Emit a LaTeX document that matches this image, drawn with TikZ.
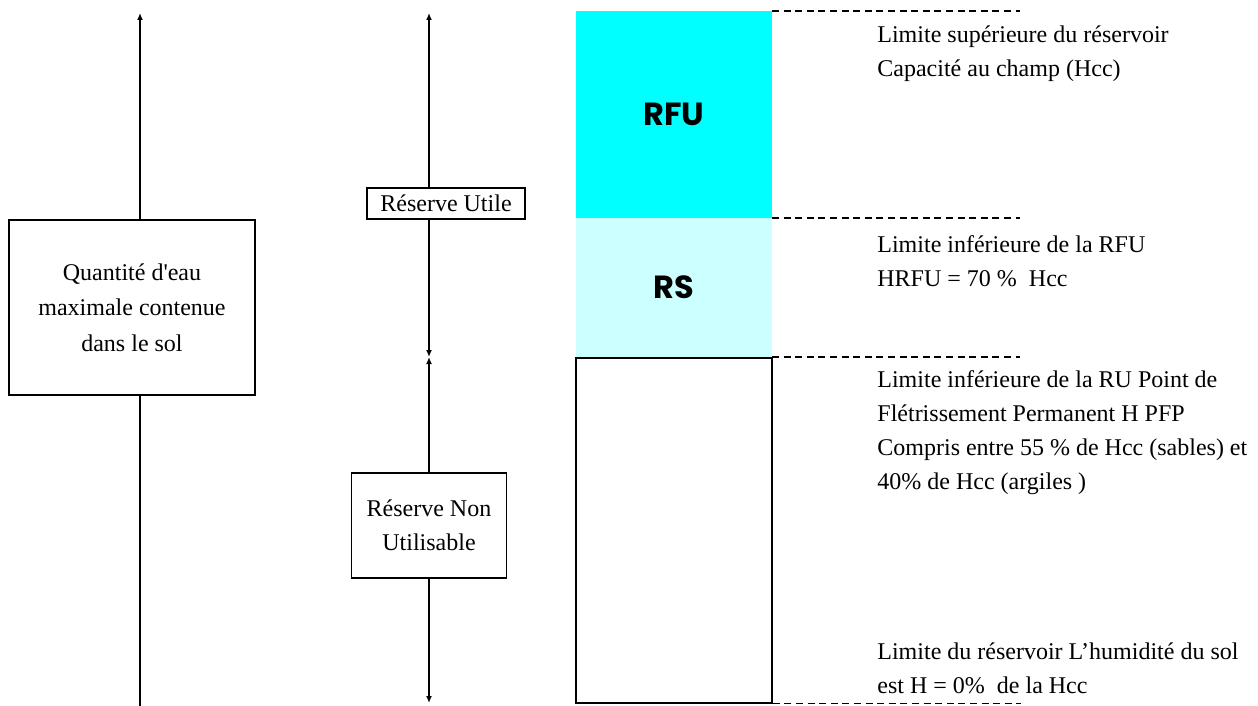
\documentclass[tikz,border=0pt]{standalone}
\usepackage{fontspec}
\setmainfont{Liberation Serif}
\newfontfamily\zonefont{Poppins}
\usepackage{tikz}
\usetikzlibrary{arrows.meta, positioning}
\definecolor{rfucol}{RGB}{0,255,255}
\definecolor{rscol}{RGB}{204,255,255}

\begin{document}
\begin{tikzpicture}[
    x=0.5pt, y=-0.5pt,
    >={Latex[length=3.5pt,width=3pt]},
    every node/.style={font=\fontsize{12}{17}\selectfont},
    axe/.style={line width=0.7pt},
    boite/.style={draw, line width=0.85pt, align=center, inner sep=0pt},
    zone/.style={minimum width=98pt, inner sep=0pt, outer sep=0pt,
        font=\zonefont\bfseries\fontsize{16}{18}\selectfont},
    limite/.style={line width=0.65pt, dash pattern=on 3.5pt off 2.3pt},
    legende/.style={anchor=north west, align=left, inner sep=0pt}
]
    \useasboundingbox (0,0) rectangle (1258,706);

    % Quantite d'eau totale
    \node[boite, minimum width=123pt, minimum height=87.5pt,
        font=\fontsize{12}{17.8}\selectfont] (qmax) at (132,307.5)
        {Quantité d\textquotesingle eau\\maximale contenue\\dans le sol};
    \coordinate (qtop) at (140,13);
    \coordinate (qbot) at (140,706);
    \draw[axe, ->] (qmax.north -| qtop) -- (qtop);
    \draw[axe] (qmax.south -| qtop) -- (qbot);

    % Reserve utile / non utilisable
    \node[boite, minimum width=79pt, minimum height=15.5pt] (ru) at (446,203.5) {Réserve Utile};
    \node[boite, minimum width=77.5pt, minimum height=52.5pt] (rnu) at (429,525.5) {Réserve Non\\Utilisable};
    \coordinate (mtop) at (429,13);
    \coordinate (mmid) at (429,357);
    \coordinate (mbot) at (429,703);
    \draw[axe, ->] (ru.north -| mtop) -- (mtop);
    \draw[axe, ->] (ru.south -| mtop) -- (mmid);
    \draw[axe, ->] (rnu.north) -- (mmid);
    \draw[axe, ->] (rnu.south) -- (mbot);

    % Reservoir
    \node[zone, fill=rfucol, minimum height=103.5pt] (rfu) at (674,114.5) {RFU};
    \node[zone, fill=rscol, minimum height=69.5pt, below=0pt of rfu] (rs) {RS};
    \node[boite, minimum width=98pt, minimum height=172.5pt, below=0pt of rs] (res) {};

    \draw[limite] (rfu.north east) -- ++(248,0);
    \draw[limite] (rfu.south east) -- ++(248,0);
    \draw[limite] (rs.south east) -- ++(248,0);
    \draw[limite] (res.south east) -- ++(248,0);

    % Legendes
    \node[legende] (lsup) at (877,25) {Limite supérieure du réservoir\\Capacité au champ (Hcc)};
    \node[legende] (lrfu) at (877,235) {Limite inférieure de la RFU\\HRFU = 70 \% \ Hcc};
    \node[legende] (lpfp) at (877,370) {Limite inférieure de la RU Point de\\Flétrissement Permanent H PFP\\Compris entre 55 \% de Hcc (sables) et\\40\% de Hcc (argiles )};
    \node[legende] (lbas) at (877,642) {Limite du réservoir L’humidité du sol\\est H = 0\% \ de la Hcc};
\end{tikzpicture}
\end{document}
